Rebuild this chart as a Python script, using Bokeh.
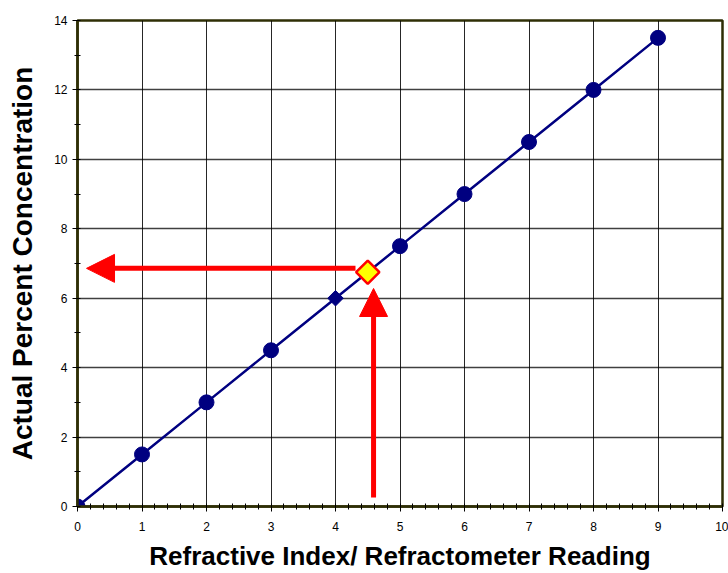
import math
from bokeh.plotting import figure
from bokeh.models import (Range1d, SingleIntervalTicker, Arrow, NormalHead)
from bokeh.embed import file_html
from bokeh.resources import INLINE

# Data
reading = [0, 1, 2, 3, 4, 5, 6, 7, 8, 9]
concentration = [0, 1.5, 3, 4.5, 6, 7.5, 9, 10.5, 12, 13.5]
circle_x = [0, 1, 2, 3, 5, 6, 7, 8, 9]
circle_y = [0, 1.5, 3, 4.5, 7.5, 9, 10.5, 12, 13.5]
small_x = [4]
small_y = [6]
sample_x = [4.5]
sample_y = [6.75]
# arrows: (x_start, y_start, x_end, y_end)
arrow_horizontal = (4.31, 6.86, 0.14, 6.86)
arrow_vertical = (4.59, 0.26, 4.59, 6.28)

FONT = "Liberation Sans"
NAVY = "#000080"
FRAME = "#2e2e05"

p = figure(width=728, height=573, output_backend="svg", toolbar_location=None,
           x_range=Range1d(0, 10), y_range=Range1d(0, 14),
           min_border_left=77, min_border_right=6, min_border_top=20,
           min_border_bottom=67)
p.background_fill_color = "white"
p.border_fill_color = "white"
p.outline_line_color = FRAME
p.outline_line_width = 2.5

p.xaxis.ticker = SingleIntervalTicker(interval=1, num_minor_ticks=5)
p.yaxis.ticker = SingleIntervalTicker(interval=2, num_minor_ticks=2)

for ax in (p.xaxis, p.yaxis):
    ax.axis_line_color = FRAME
    ax.axis_line_width = 2.5
    ax.major_tick_line_color = "black"
    ax.minor_tick_line_color = "black"
    ax.major_tick_out = 5
    ax.major_tick_in = 0
    ax.minor_tick_out = 3
    ax.minor_tick_in = 3
    ax.major_label_text_font = FONT
    ax.major_label_text_font_size = "12px"
    ax.major_label_text_color = "black"
    ax.axis_label_text_font = FONT
    ax.axis_label_text_font_style = "bold"
    ax.axis_label_text_color = "black"

p.xaxis.axis_label_text_font_size = "26px"
p.yaxis.axis_label_text_font_size = "28px"

p.xaxis.major_label_standoff = 10
p.yaxis.major_label_standoff = 5

p.xaxis.axis_label = "Refractive Index/ Refractometer Reading"
p.xaxis.axis_label_standoff = 7
p.yaxis.axis_label = "Actual Percent Concentration"
p.yaxis.axis_label_standoff = 13

p.xgrid.grid_line_color = "black"
p.ygrid.grid_line_color = "black"
p.xgrid.grid_line_alpha = 0.85
p.ygrid.grid_line_alpha = 0.75
p.xgrid.grid_line_width = 1
p.ygrid.grid_line_width = 1.3

p.line(reading, concentration, line_color=NAVY, line_width=2.5)
p.scatter(circle_x, circle_y, marker="circle", size=15, fill_color=NAVY, line_color=NAVY)
p.scatter(small_x, small_y, marker="square", angle=math.pi / 4, size=11,
          fill_color=NAVY, line_color=NAVY)

for (x0, y0, x1, y1) in (arrow_horizontal, arrow_vertical):
    p.add_layout(Arrow(end=NormalHead(size=28, fill_color="red", line_color="red"),
                       x_start=x0, y_start=y0, x_end=x1, y_end=y1,
                       line_color="red", line_width=5))

p.scatter(sample_x, sample_y, marker="square", angle=math.pi / 4, size=16.5,
          fill_color="yellow", line_color="red", line_width=2.5)

open("out.html", "w").write(file_html(p, INLINE))
